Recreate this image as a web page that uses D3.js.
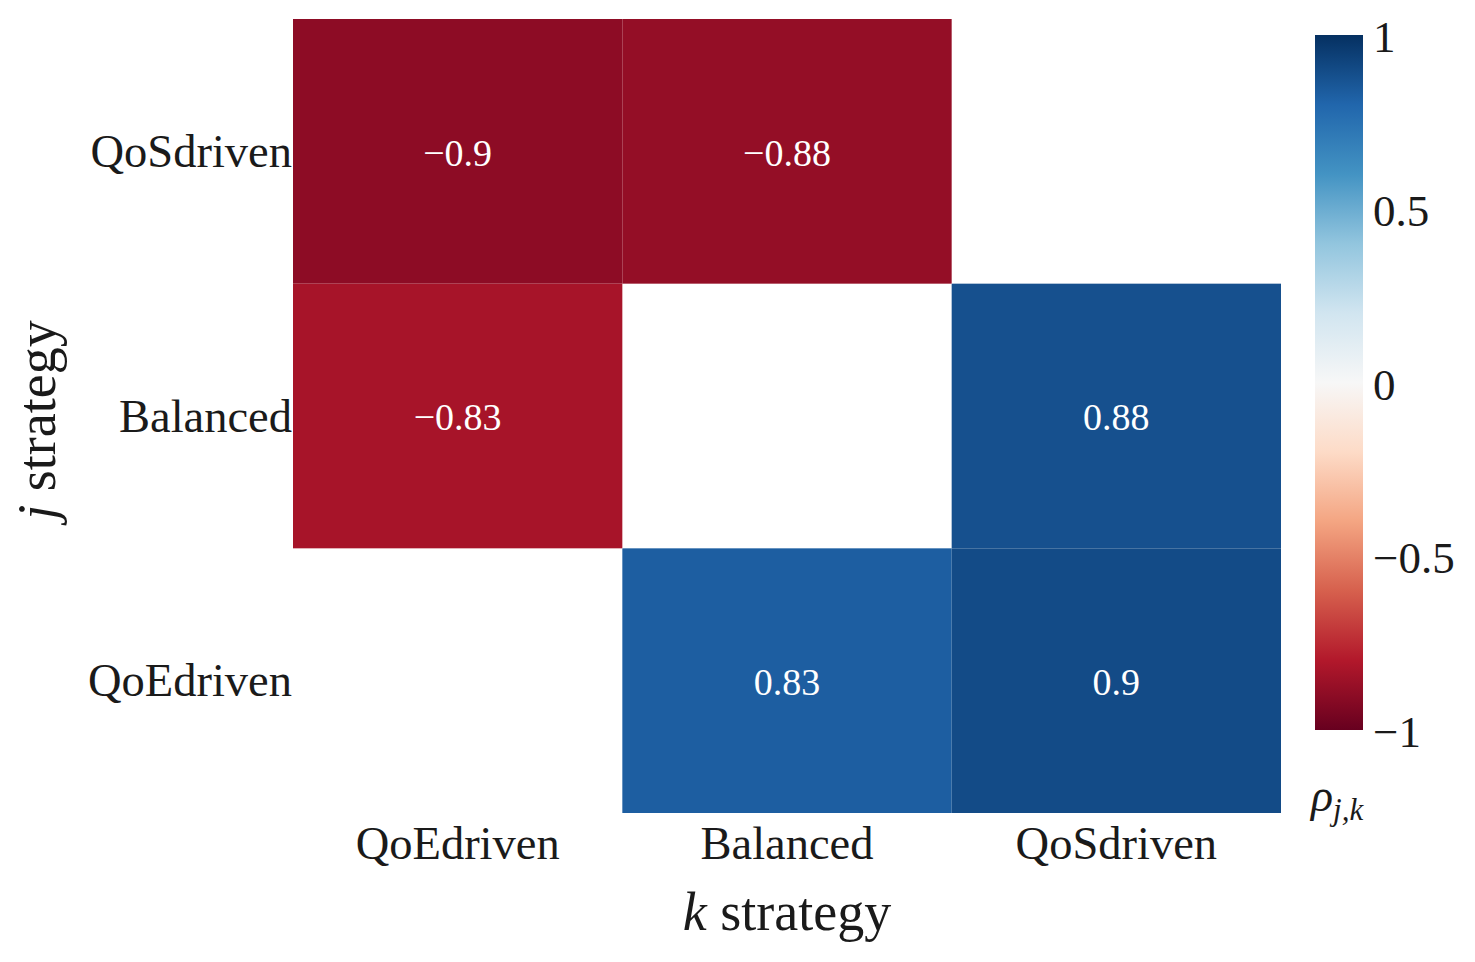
<!DOCTYPE html>
<html lang="en">
<head>
<meta charset="utf-8">
<title>Correlation heatmap</title>
<script src="https://cdn.jsdelivr.net/npm/d3@7"></script>
<style>
  body { margin: 0; background: #fff; }
  svg text { font-family: "Liberation Serif", "Times New Roman", serif; fill: #1a1a1a; }
  .axis path { display: none; }
  .axis line { display: none; }
</style>
</head>
<body>
<script>
// rows = j strategy, columns = k strategy
var rowLabels = ["QoSdriven", "Balanced", "QoEdriven"];
var colLabels = ["QoEdriven", "Balanced", "QoSdriven"];
var values = [
  [-0.9, -0.88, null],
  [-0.83, null, 0.88],
  [null, 0.83, 0.9]
];
var cbarTicks = [-1, -0.5, 0, 0.5, 1];
// RdBu_r stops, from -1 to 1
var rdbuStops = ["#67001f", "#b2182b", "#d6604d", "#f4a582", "#fddbc7", "#f7f7f7",
                 "#d1e5f0", "#92c5de", "#4393c3", "#2166ac", "#053061"];

var w = 1475, h = 962;
var gLeft = 293, gRight = 1281, gTop = 19, gBottom = 813;

var svg = d3.select("body").append("svg")
  .attr("width", w)
  .attr("height", h);

var x = d3.scaleBand().domain(colLabels).range([gLeft, gRight]);
var y = d3.scaleBand().domain(rowLabels).range([gTop, gBottom]);

var color = d3.scaleLinear()
  .domain(rdbuStops.map(function(d, i) { return -1 + i * 2 / (rdbuStops.length - 1); }))
  .range(rdbuStops);

var cells = [];
values.forEach(function(row, i) {
  row.forEach(function(v, j) {
    if (v !== null) cells.push({ r: rowLabels[i], c: colLabels[j], v: v });
  });
});

svg.selectAll("rect.cell")
  .data(cells)
  .enter().append("rect")
  .attr("class", "cell")
  .attr("x", function(d) { return x(d.c); })
  .attr("y", function(d) { return y(d.r); })
  .attr("width", x.bandwidth())
  .attr("height", y.bandwidth())
  .attr("fill", function(d) { return color(d.v); });

var fmt = d3.format("~g");

svg.selectAll("text.annot")
  .data(cells)
  .enter().append("text")
  .attr("class", "annot")
  .attr("x", function(d) { return x(d.c) + x.bandwidth() / 2; })
  .attr("y", function(d) { return y(d.r) + y.bandwidth() / 2; })
  .attr("dy", "0.38em")
  .attr("text-anchor", "middle")
  .style("font-size", "38px")
  .style("fill", "#fff")
  .text(function(d) { return fmt(d.v); });

// axes
var yAxis = svg.append("g")
  .attr("class", "axis")
  .attr("transform", "translate(" + gLeft + ",0)")
  .call(d3.axisLeft(y).tickSize(0).tickPadding(1));
yAxis.selectAll("text").style("font-size", "46.5px").attr("dy", "0.34em");

var xAxis = svg.append("g")
  .attr("class", "axis")
  .attr("transform", "translate(0," + gBottom + ")")
  .call(d3.axisBottom(x).tickSize(0).tickPadding(13));
xAxis.selectAll("text").style("font-size", "46.5px");

// axis titles
var xt = svg.append("text")
  .attr("x", (gLeft + gRight) / 2)
  .attr("y", 930)
  .attr("text-anchor", "middle")
  .style("font-size", "54px");
xt.append("tspan").style("font-style", "italic").text("k");
xt.append("tspan").text(" strategy");

var yt = svg.append("text")
  .attr("transform", "translate(55," + ((gTop + gBottom) / 2 + 4) + ") rotate(-90)")
  .attr("text-anchor", "middle")
  .style("font-size", "54px");
yt.append("tspan").style("font-style", "italic").text("j");
yt.append("tspan").text(" strategy");

// colorbar
var cbX = 1315, cbW = 48, cbTop = 35, cbBottom = 730;
var cScale = d3.scaleLinear().domain([-1, 1]).range([cbBottom, cbTop]);

var grad = svg.append("defs").append("linearGradient")
  .attr("id", "cbgrad")
  .attr("x1", "0").attr("y1", "1").attr("x2", "0").attr("y2", "0");
grad.selectAll("stop")
  .data(color.domain())
  .enter().append("stop")
  .attr("offset", function(d) { return (d + 1) / 2; })
  .attr("stop-color", function(d) { return color(d); });

svg.append("rect")
  .attr("x", cbX)
  .attr("y", cbTop)
  .attr("width", cbW)
  .attr("height", cbBottom - cbTop)
  .attr("fill", "url(#cbgrad)");

var cAxis = svg.append("g")
  .attr("class", "axis")
  .attr("transform", "translate(" + (cbX + cbW) + ",0)")
  .call(d3.axisRight(cScale).tickValues(cbarTicks).tickSize(0).tickPadding(10).tickFormat(fmt));
cAxis.selectAll("text").style("font-size", "45px").attr("dy", "0.37em");

var rho = svg.append("text")
  .attr("x", 1311)
  .attr("y", 811)
  .style("font-size", "46px");
rho.append("tspan").style("font-style", "italic").text("ρ");
rho.append("tspan").attr("dy", 9).style("font-size", "31px").style("font-style", "italic").text("j,k");
</script>
</body>
</html>
